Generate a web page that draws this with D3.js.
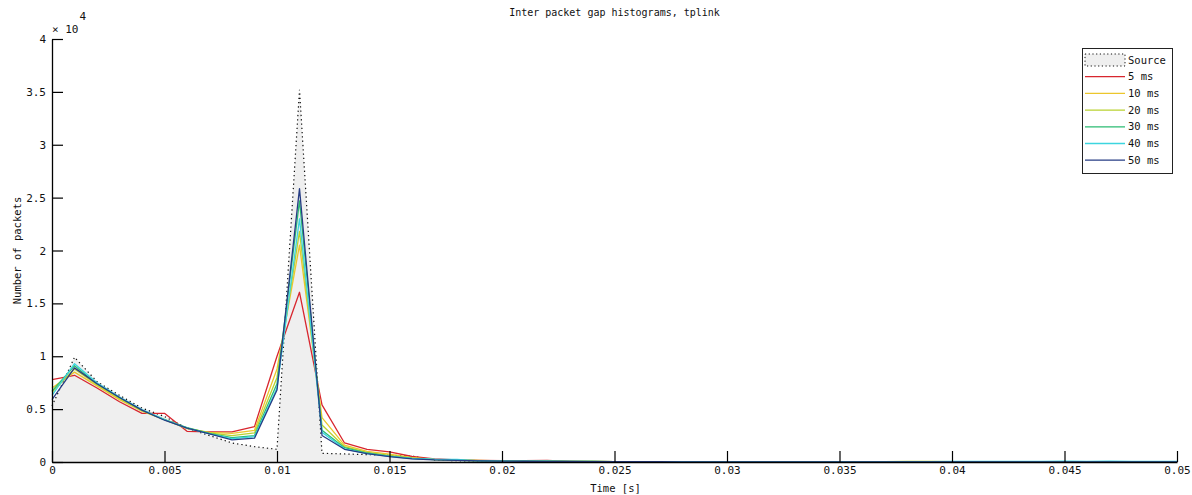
<!DOCTYPE html>
<html>
<head>
<meta charset="utf-8">
<script src="https://cdn.jsdelivr.net/npm/d3@7"></script>
<style>
  html, body { margin: 0; padding: 0; background: #fff; }
  svg { display: block; }
  text { font-family: "DejaVu Sans Mono", monospace; fill: #111; }
</style>
</head>
<body>
<svg id="chart" width="1192" height="495"></svg>
<script>
// Histogram bin centres (seconds)
const binTimes = [
  0, 0.001, 0.002, 0.003, 0.004, 0.005, 0.006, 0.007, 0.008, 0.009,
  0.010, 0.011, 0.012, 0.013, 0.014, 0.015, 0.016, 0.017, 0.018, 0.019,
  0.020, 0.021, 0.022, 0.023, 0.024, 0.025, 0.026, 0.027, 0.028, 0.029,
  0.030, 0.031, 0.032, 0.033, 0.034, 0.035, 0.036, 0.037, 0.038, 0.039,
  0.040, 0.041, 0.042, 0.043, 0.044, 0.045, 0.046, 0.047, 0.048, 0.049,
  0.050
];

// Packet counts per bin: source stream
const sourceCounts = [
  5300, 9900, 7600, 6300, 5100, 4300, 3200, 2500, 1800, 1450,
  1200, 35200, 820, 760, 700, 640, 560, 180, 120, 90,
  70, 60, 50, 40, 40, 30, 30, 30, 20, 20,
  20, 20, 20, 20, 10, 10, 10, 10, 10, 10,
  10, 10, 10, 10, 10, 10, 10, 10, 10, 10,
  10
];

// Packet counts per bin for each delay setting
const counts5ms = [
  7800, 8200, 7000, 5700, 4600, 4600, 2900, 2850, 2850, 3350,
  10000, 16050, 5400, 1800, 1200, 950, 520, 300, 200, 160,
  120, 120, 150, 60, 50, 40, 30, 30, 30, 20,
  20, 20, 20, 20, 20, 20, 20, 20, 20, 20,
  20, 10, 10, 10, 10, 10, 10, 10, 10, 10,
  10
];
const counts10ms = [
  7000, 8500, 7200, 5900, 4800, 4000, 3150, 2800, 2700, 3000,
  8800, 20500, 4200, 1600, 1000, 750, 420, 250, 180, 140,
  110, 90, 80, 60, 50, 40, 30, 30, 30, 20,
  20, 20, 20, 20, 20, 20, 20, 20, 30, 30,
  20, 10, 10, 10, 10, 10, 10, 10, 10, 10,
  10
];
const counts20ms = [
  6600, 8800, 7300, 6000, 4850, 4000, 3200, 2750, 2500, 2750,
  8000, 21800, 3500, 1450, 900, 620, 380, 230, 170, 130,
  100, 80, 70, 60, 50, 40, 30, 30, 30, 20,
  20, 20, 20, 20, 20, 20, 20, 30, 60, 60,
  40, 20, 20, 20, 20, 20, 20, 20, 20, 20,
  20
];
const counts30ms = [
  6700, 9100, 7400, 6100, 4900, 4000, 3250, 2700, 2300, 2500,
  7400, 24700, 3000, 1350, 850, 560, 350, 220, 160, 120,
  90, 80, 70, 60, 50, 40, 30, 30, 30, 20,
  20, 20, 20, 20, 20, 20, 20, 20, 40, 40,
  30, 20, 20, 20, 20, 20, 20, 30, 20, 20,
  20
];
const counts40ms = [
  6300, 9300, 7500, 6150, 4950, 4000, 3200, 2650, 2200, 2400,
  7000, 23000, 2800, 1250, 800, 540, 330, 260, 250, 110,
  90, 80, 70, 60, 50, 40, 30, 30, 30, 20,
  20, 20, 20, 20, 20, 20, 20, 20, 30, 40,
  60, 60, 60, 60, 60, 80, 60, 70, 60, 60,
  50
];
const counts50ms = [
  5900, 8900, 7400, 6100, 4900, 3950, 3200, 2650, 2100, 2250,
  6800, 25850, 2500, 1200, 800, 500, 300, 200, 150, 110,
  80, 70, 60, 50, 40, 30, 30, 30, 20, 20,
  20, 20, 20, 20, 20, 20, 20, 20, 20, 20,
  20, 10, 10, 10, 10, 10, 10, 10, 10, 10,
  20
];

const seriesNames = ["5 ms", "10 ms", "20 ms", "30 ms", "40 ms", "50 ms"];
const seriesCounts = [counts5ms, counts10ms, counts20ms, counts30ms, counts40ms, counts50ms];
const seriesColors = ["#d8262e", "#ecc62c", "#b9d230", "#2bbb72", "#3cd5df", "#263c84"];

const xTicks = [0, 0.005, 0.01, 0.015, 0.02, 0.025, 0.03, 0.035, 0.04, 0.045, 0.05];
const yTicks = [0, 5000, 10000, 15000, 20000, 25000, 30000, 35000, 40000];

const titleText = "Inter packet gap histograms, tplink";
const xLabelText = "Time [s]";
const yLabelText = "Number of packets";

// ---- layout ----
const svg = d3.select("#chart");
const plotLeft = 52, plotRight = 1177, plotTop = 39, plotBottom = 462;

const x = d3.scaleLinear().domain([0, 0.05]).range([plotLeft, plotRight]);
const y = d3.scaleLinear().domain([0, 40000]).range([plotBottom, plotTop]);

// source histogram as shaded area with dotted outline
const area = d3.area()
  .x((d, i) => x(binTimes[i]))
  .y0(y(0))
  .y1(d => y(d));
const line = d3.line()
  .x((d, i) => x(binTimes[i]))
  .y(d => y(d));

svg.append("path")
  .datum(sourceCounts)
  .attr("d", area)
  .attr("fill", "#efefef")
  .attr("stroke", "none");

svg.append("path")
  .datum(sourceCounts)
  .attr("d", line)
  .attr("fill", "none")
  .attr("stroke", "#111")
  .attr("stroke-width", 1.2)
  .attr("stroke-dasharray", "1.3,3");

// delay series
seriesCounts.forEach((vals, k) => {
  svg.append("path")
    .datum(vals)
    .attr("d", line)
    .attr("fill", "none")
    .attr("stroke", seriesColors[k])
    .attr("stroke-width", 1.3)
    .attr("stroke-linejoin", "round");
});

// ---- axes ----
const fmtX = d => d === 0 ? "0" : String(+d.toFixed(3));
const xAxis = d3.axisBottom(x)
  .tickValues(xTicks)
  .tickFormat(fmtX)
  .tickSizeInner(-11)
  .tickSizeOuter(0)
  .tickPadding(4);
const yAxis = d3.axisLeft(y)
  .tickValues(yTicks)
  .tickFormat(d => String(d / 10000))
  .tickSizeInner(-11)
  .tickSizeOuter(0)
  .tickPadding(6);

const gx = svg.append("g").attr("transform", `translate(0,${plotBottom})`).call(xAxis);
const gy = svg.append("g").attr("transform", `translate(${plotLeft},0)`).call(yAxis);

[gx, gy].forEach(g => {
  g.select(".domain").attr("stroke", "#000").attr("stroke-width", 1.3);
  g.selectAll(".tick line").attr("stroke", "#000").attr("stroke-width", 1.2);
  g.selectAll(".tick text")
    .attr("font-family", "DejaVu Sans Mono, monospace")
    .attr("font-size", 11)
    .attr("fill", "#111");
});

// exponent marker on y axis
const expo = svg.append("text")
  .attr("x", 52).attr("y", 33)
  .attr("font-size", 11);
expo.append("tspan").text("\u00d7 10");
expo.append("tspan").attr("dy", -13).attr("dx", 1).text("4");

// title and axis labels
svg.append("text")
  .attr("x", (plotLeft + plotRight) / 2).attr("y", 16)
  .attr("text-anchor", "middle")
  .attr("font-size", 10)
  .text(titleText);

svg.append("text")
  .attr("x", (plotLeft + plotRight) / 2 + 1).attr("y", 492)
  .attr("text-anchor", "middle")
  .attr("font-size", 10.5)
  .text(xLabelText);

svg.append("text")
  .attr("transform", `translate(21,${(plotTop + plotBottom) / 2}) rotate(-90)`)
  .attr("text-anchor", "middle")
  .attr("font-size", 10.5)
  .text(yLabelText);

// ---- legend ----
const lg = svg.append("g").attr("transform", "translate(1082,48)");
lg.append("rect")
  .attr("x", 0.5).attr("y", 0.5)
  .attr("width", 90).attr("height", 125)
  .attr("fill", "#fff")
  .attr("stroke", "#222")
  .attr("stroke-width", 1);

const rowY = i => 12 + i * 16.7;
// source swatch
lg.append("rect")
  .attr("x", 3).attr("y", rowY(0) - 6)
  .attr("width", 40).attr("height", 12)
  .attr("fill", "#efefef")
  .attr("stroke", "#111")
  .attr("stroke-width", 1)
  .attr("stroke-dasharray", "1.2,2.5");
lg.append("text")
  .attr("x", 46).attr("y", rowY(0)).attr("dy", "0.35em")
  .attr("font-size", 10.5)
  .text("Source");

seriesNames.forEach((name, k) => {
  const yy = rowY(k + 1);
  lg.append("line")
    .attr("x1", 3).attr("x2", 43)
    .attr("y1", yy).attr("y2", yy)
    .attr("stroke", seriesColors[k])
    .attr("stroke-width", 1.3);
  lg.append("text")
    .attr("x", 46).attr("y", yy).attr("dy", "0.35em")
    .attr("font-size", 10.5)
    .text(name);
});
</script>
</body>
</html>
